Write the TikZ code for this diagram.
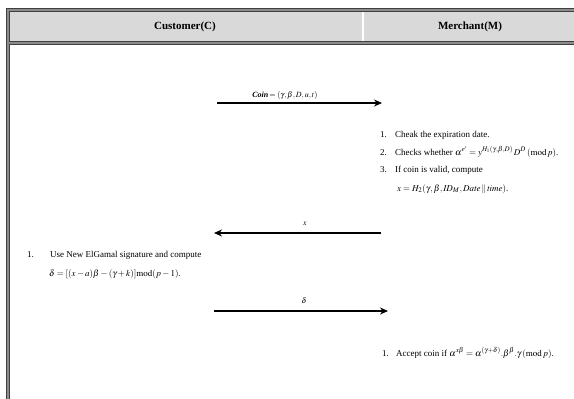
\documentclass[tikz,border=0pt]{standalone}
\usepackage{mathptmx}
\usepackage[no-math]{fontspec}
\setmainfont{Liberation Serif}
\usetikzlibrary{arrows.meta}
\begin{document}
\begin{tikzpicture}[x=1pt,y=-1pt,
  hdr/.style={font=\fontsize{11}{13}\selectfont\bfseries, inner sep=0pt},
  item/.style={font=\fontsize{9}{11}\selectfont, anchor=base west, inner sep=0pt},
  lbl/.style={font=\fontsize{8}{10}\selectfont\boldmath, inner sep=0pt, anchor=base},
  msg/.style={line width=1.6pt, -{Stealth[length=8pt,width=7pt]}},
  frameline/.style={line width=0.9pt, draw=black!75}]
\useasboundingbox (0,0) rectangle (574,399);
% header fill
\fill[black!15] (8,10) rectangle (574,43);
\fill[white] (362,10) rectangle (364,42);
% outer double border
\draw[line width=3.5pt, draw=black!45] (7.5,399) -- (7.5,9.5) -- (574,9.5);
\draw[frameline] (6,399) -- (6,8) -- (574,8);
\draw[frameline] (9,399) -- (9,11) -- (574,11);
% header bottom double line
\draw[line width=3.5pt, draw=black!45] (9,43) -- (574,43);
\draw[frameline] (9,41.5) -- (574,41.5);
\draw[frameline] (9,44.7) -- (574,44.7);
% headers
\node[hdr] (hc) at (185,27) {Customer(C)};
\node[hdr] (hm) at (470,27) {Merchant(M)};
% arrow 1
\coordinate (a1s) at (217,103);
\coordinate (a1e) at (382,103);
\draw[msg] (a1s) -- (a1e);
\node[lbl] (l1) at (285,97) {\textbf{\textit{Coin}}$\,=(\gamma,\beta,D,u,t)$};
% merchant steps
\node[item] (m1n) at (380,137) {1.};
\node[item] (m1) at (395,137) {Cheak the expiration date.};
\node[item] (m2n) at (380,155) {2.};
\node[item] (m2) at (395,155) {Checks whether $\alpha^{e'}=y^{H_1(\gamma,\beta,D)}\,D^{D}\,(\mathrm{mod}\,p)$.};
\node[item] (m3n) at (380,172) {3.};
\node[item] (m3) at (395,172) {If coin is valid, compute};
\node[item] (m4) at (397,191) {$x=H_2(\gamma,\beta,\mathit{ID}_M,\mathit{Date}\,\|\,\mathit{time})$.};
% arrow 2
\coordinate (a2s) at (381,233);
\coordinate (a2e) at (214,233);
\draw[msg] (a2s) -- (a2e);
\node[lbl] (l2) at (305,225) {$x$};
% customer step
\node[item] (c1n) at (27,257) {1.};
\node[item] (c1) at (50,257) {Use New ElGamal signature and compute};
\node[item] (c2) at (49,276) {$\delta=[(x-a)\beta-(\gamma+k)]\mathrm{mod}(p-1)$.};
% arrow 3
\coordinate (a3s) at (214,311);
\coordinate (a3e) at (388,311);
\draw[msg] (a3s) -- (a3e);
\node[lbl] (l3) at (304,303) {$\delta$};
% accept
\node[item] (k1n) at (382,356) {1.};
\node[item] (k1) at (396,356) {Accept coin if $\alpha^{x\beta}=\alpha^{(\gamma+\delta)}.\beta^{\beta}.\gamma\,(\mathrm{mod}\,p)$.};
\end{tikzpicture}
\end{document}
